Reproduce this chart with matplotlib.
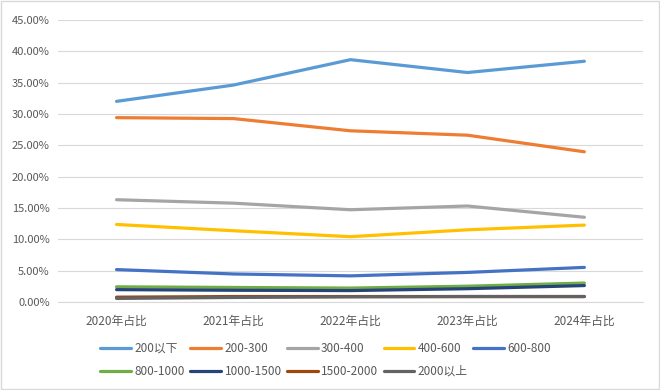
import matplotlib
matplotlib.use("Agg")
import matplotlib.pyplot as plt
from matplotlib.ticker import FuncFormatter

plt.rcParams['font.family'] = ['Noto Sans CJK SC', 'DejaVu Sans']

years = ["2020年占比", "2021年占比", "2022年占比", "2023年占比", "2024年占比"]
labels = ["200以下", "200-300", "300-400", "400-600", "600-800",
          "800-1000", "1000-1500", "1500-2000", "2000以上"]
colors = ["#5B9BD5", "#ED7D31", "#A5A5A5", "#FFC000", "#4472C4",
          "#70AD47", "#264478", "#9E480E", "#636363"]

s_200 = [32.0, 34.6, 38.65, 36.6, 38.4]
s_200_300 = [29.4, 29.25, 27.3, 26.6, 23.95]
s_300_400 = [16.3, 15.75, 14.7, 15.3, 13.5]
s_400_600 = [12.35, 11.35, 10.4, 11.5, 12.25]
s_600_800 = [5.15, 4.45, 4.15, 4.7, 5.5]
s_800_1000 = [2.4, 2.3, 2.2, 2.5, 3.0]
s_1000_1500 = [1.95, 1.85, 1.8, 2.1, 2.6]
s_1500_2000 = [0.75, 0.85, 0.85, 0.85, 0.85]
s_2000 = [0.55, 0.7, 0.8, 0.85, 0.85]

series = [s_200, s_200_300, s_300_400, s_400_600, s_600_800,
          s_800_1000, s_1000_1500, s_1500_2000, s_2000]

fig = plt.figure(figsize=(6.6, 3.9), dpi=100)
ax = fig.add_axes([0.088, 0.226, 0.886, 0.723])

x = list(range(len(years)))
handles = []
for vals, lab, col in zip(series, labels, colors):
    h, = ax.plot(x, vals, color=col, lw=2.3, label=lab, solid_capstyle='round')
    handles.append(h)

ax.set_xlim(-0.5, 4.5)
ax.set_ylim(0, 45)
ax.set_yticks(range(0, 46, 5))
ax.yaxis.set_major_formatter(FuncFormatter(lambda v, p: "%.2f%%" % v))
ax.set_xticks(x)
ax.set_xticklabels(years)
ax.grid(axis='y', color='#D9D9D9', lw=0.8)
ax.set_axisbelow(True)
for s in ['top', 'right', 'left']:
    ax.spines[s].set_visible(False)
ax.spines['bottom'].set_color('#D9D9D9')
ax.tick_params(axis='both', length=0, colors='#595959')
ax.tick_params(axis='y', labelsize=8, pad=6)
ax.tick_params(axis='x', labelsize=8.5, pad=9)

# legend filled row by row like the original
order = [0, 5, 1, 6, 2, 7, 3, 8, 4]
fig.legend([handles[i] for i in order], [labels[i] for i in order],
           ncol=5, loc='upper left', bbox_to_anchor=(0.152, 0.124), frameon=False,
           fontsize=8.5, handlelength=2.6, columnspacing=0.45, handletextpad=0.3,
           labelspacing=0.85, labelcolor='#595959', borderaxespad=0, borderpad=0)

fig.patches.append(plt.Rectangle((0.002, 0.002), 0.996, 0.996, transform=fig.transFigure,
                                 fill=False, edgecolor='#D9D9D9', lw=1))

fig.savefig("out.png", dpi=100)
